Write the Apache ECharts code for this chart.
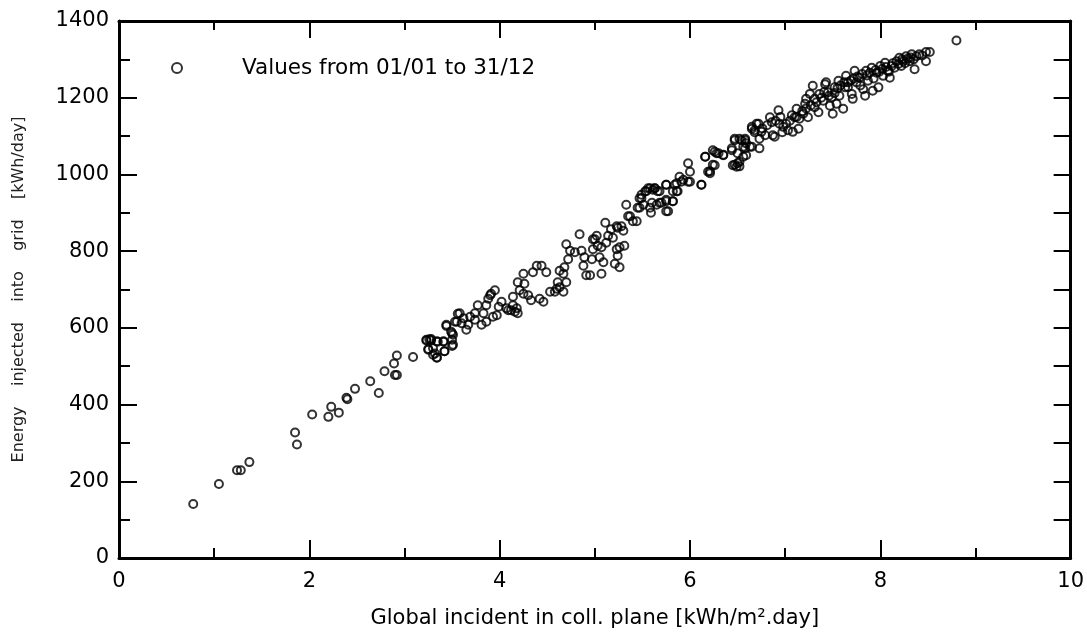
<!DOCTYPE html>
<html>
<head>
<meta charset="utf-8">
<script src="https://cdn.jsdelivr.net/npm/echarts@6/dist/echarts.min.js"></script>
<style>html,body{margin:0;padding:0;background:#fff}#c{width:1087px;height:634px}</style>
</head>
<body>
<div id="c"></div>
<script>
// Global incident irradiation [kWh/m².day]
const irradiation = [
0.78,1.05,1.24,1.28,1.37,1.85,1.87,2.03,2.20,2.23,2.31,2.39,2.40,2.48,2.64,2.73,2.79,2.89,2.92,2.90,2.92,3.09,
3.23,3.26,3.28,3.25,3.30,3.34,3.32,3.35,3.41,3.42,3.44,3.50,3.50,3.50,3.55,3.56,
3.23,3.28,3.34,3.41,3.25,3.30,3.34,3.42,3.51,3.51,3.49,3.44,3.53,3.58,3.60,3.62,3.65,3.67,3.69,3.74,3.74,3.77,
3.81,3.83,3.86,3.86,3.90,3.91,3.95,3.88,3.93,3.97,3.99,4.02,4.07,4.09,4.12,4.14,4.16,4.18,4.19,4.14,4.19,4.21,
4.25,4.26,4.25,4.30,4.33,4.35,4.39,4.42,4.44,4.46,4.49,4.53,4.58,4.60,4.63,4.67,4.61,4.67,4.70,4.63,4.68,4.72,
4.70,4.74,4.79,4.84,4.86,4.88,4.89,4.91,4.95,4.97,4.98,4.98,5.00,5.02,5.03,5.05,5.07,5.07,5.09,5.11,5.12,5.14,
5.17,5.19,5.21,5.23,5.24,5.23,5.26,5.28,5.30,5.24,5.26,5.31,5.33,5.37,5.40,5.44,5.45,5.47,5.49,5.51,5.54,5.58,
5.59,5.58,5.61,5.63,5.66,5.68,5.75,5.75,5.77,5.82,5.82,5.86,5.87,5.91,5.98,6.12,
5.35,5.47,5.49,5.53,5.56,5.60,5.63,5.65,5.68,5.70,5.75,5.75,5.75,5.82,5.84,5.86,5.89,5.93,5.98,6.00,6.00,6.12,
6.16,6.19,6.21,6.24,6.26,6.28,6.35,6.44,6.45,6.47,6.49,6.50,6.52,6.54,6.56,6.58,6.59,6.65,6.65,6.68,6.70,
6.16,6.21,6.24,6.26,6.30,6.35,6.44,6.47,6.47,6.50,6.52,6.52,6.56,6.58,6.58,6.59,6.63,6.65,6.68,6.72,6.73,6.73,
6.75,6.79,6.84,6.86,6.87,6.89,6.93,6.94,6.98,7.01,7.03,7.07,7.08,7.10,7.12,7.14,7.15,7.19,7.21,7.22,7.24,7.26,
7.29,7.31,7.31,7.35,7.36,7.40,7.42,7.43,7.45,7.47,7.49,7.50,7.52,7.54,7.56,7.57,7.61,7.63,7.64,7.66,7.70,7.71,
7.73,7.75,7.78,7.82,7.84,7.85,7.87,7.91,7.92,7.96,7.98,8.00,8.03,8.05,8.08,8.10,8.12,8.17,8.20,8.22,8.24,8.27,
8.31,8.33,8.36,8.38,8.41,8.48,8.48,8.52,8.80,
7.05,7.12,7.18,7.22,7.27,7.33,7.38,7.41,7.46,7.52,7.55,7.58,7.62,7.66,7.69,7.72,7.76,7.79,7.81,7.86,7.89,7.93,
7.95,7.99,8.02,8.06,8.09,8.13,8.15,8.19,8.23,8.26,8.29,8.32,8.35,8.44,6.76,6.81,6.90,6.95,6.97
];
// Energy injected into grid [kWh/day]
const energy = [
141,193,229,229,250,327,296,374,368,394,379,418,414,441,461,430,487,507,528,477,477,524,
567,570,568,545,547,523,533,564,564,539,605,586,569,553,616,637,
569,571,565,565,543,530,522,539,556,582,590,608,616,638,612,625,595,608,629,638,621,659,
608,638,659,616,685,689,698,676,629,633,655,668,651,646,646,659,642,651,638,681,719,698,
741,715,689,685,672,745,762,676,762,668,745,694,694,702,706,694,719,741,719,749,758,779,
818,801,797,844,801,762,784,737,737,779,831,805,831,840,814,784,810,741,771,874,822,840,
857,835,767,865,861,805,810,865,853,788,758,814,921,891,878,878,913,938,947,921,956,913,
900,964,960,964,956,926,973,930,904,956,930,977,956,981,981,973,
891,913,938,956,964,926,964,921,956,926,973,934,904,930,973,956,994,986,1029,1007,981,973,
1046,1007,1003,1063,1024,1055,1050,1063,1024,1089,1020,1055,1033,1089,1072,1089,1050,1119,1072,1110,1132,
1046,1008,1025,1059,1055,1051,1068,1093,1025,1029,1093,1021,1046,1093,1068,1081,1072,1124,1115,1132,1093,1068,
1111,1102,1149,1136,1102,1098,1167,1132,1124,1132,1115,1154,1111,1149,1171,1119,1145,1158,1184,1197,1149,1210,
1231,1197,1175,1162,1210,1192,1235,1240,1214,1179,1201,1158,1227,1184,1244,1205,1171,1227,1257,1240,1210,1197,
1270,1240,1252,1222,1205,1270,1244,1278,1218,1265,1227,1283,1257,1291,1270,1252,1283,1295,1304,1283,1295,1308,
1295,1313,1274,1308,1313,1295,1319,1319,1349,
1140,1150,1165,1172,1180,1188,1200,1215,1205,1212,1225,1232,1240,1228,1245,1250,1255,1232,1262,1258,1265,1250,
1272,1268,1275,1280,1268,1290,1278,1288,1300,1290,1302,1305,1300,1310,1120,1128,1140,1150,1110
];
const seriesName = 'Values from 01/01 to 31/12';
const xTitle = 'Global incident in coll. plane [kWh/m².day]';
const yTitle = 'Energy    injected    into    grid    [kWh/day]';

const points = irradiation.map((x, i) => [x, energy[i]]);
const FONT = 'DejaVu Sans, Liberation Sans, sans-serif';

const chart = echarts.init(document.getElementById('c'), null, {renderer: 'canvas'});
const lineStyle = {color: '#000', width: 3};
const tickStyle = {color: '#000', width: 2};
chart.setOption({
  animation: false,
  backgroundColor: '#fff',
  grid: {left: 119, right: 16, top: 21, bottom: 70, containLabel: false},
  legend: {
    left: 166, top: 52,
    itemWidth: 10, itemHeight: 10,
    data: [{name: seriesName, icon: 'circle', itemStyle: {color: 'transparent', borderColor: '#000', borderWidth: 2}}],
    textStyle: {fontFamily: FONT, fontSize: 21.5, color: '#000', padding: [0, 0, 0, 55]},
    selectedMode: false
  },
  xAxis: [{
    type: 'value', min: 0, max: 10, interval: 2, position: 'bottom',
    name: xTitle, nameLocation: 'middle', nameGap: 50,
    nameTextStyle: {fontFamily: FONT, fontSize: 21, color: '#000'},
    axisLine: {show: true, onZero: false, lineStyle},
    axisTick: {show: true, inside: true, length: 18, lineStyle: tickStyle},
    minorTick: {show: true, splitNumber: 2, length: 10, lineStyle: tickStyle},
    axisLabel: {fontFamily: FONT, fontSize: 21, color: '#000', margin: 13},
    splitLine: {show: false}
  }, {
    type: 'value', min: 0, max: 10, interval: 2, position: 'top',
    axisLine: {show: true, onZero: false, lineStyle},
    axisTick: {show: true, inside: true, length: 17, lineStyle: tickStyle},
    minorTick: {show: true, splitNumber: 2, length: 9, lineStyle: tickStyle},
    axisLabel: {show: false}, splitLine: {show: false}
  }],
  yAxis: [{
    type: 'value', min: 0, max: 1400, interval: 200, position: 'left',
    name: yTitle, nameLocation: 'middle', nameGap: 92, nameRotate: 90,
    nameTextStyle: {fontFamily: FONT, fontSize: 16, color: '#222'},
    axisLine: {show: true, onZero: false, lineStyle},
    axisTick: {show: true, inside: true, length: 18, lineStyle: tickStyle},
    minorTick: {show: true, splitNumber: 2, length: 11, lineStyle: tickStyle},
    axisLabel: {fontFamily: FONT, fontSize: 21, color: '#000', margin: 10, formatter: v => String(v)},
    splitLine: {show: false}
  }, {
    type: 'value', min: 0, max: 1400, interval: 200, position: 'right',
    axisLine: {show: true, onZero: false, lineStyle},
    axisTick: {show: true, inside: true, length: 17, lineStyle: tickStyle},
    minorTick: {show: true, splitNumber: 2, length: 17, lineStyle: tickStyle},
    axisLabel: {show: false}, splitLine: {show: false}
  }],
  series: [{
    name: seriesName,
    type: 'scatter',
    xAxisIndex: 0, yAxisIndex: 0,
    symbol: 'circle',
    symbolSize: 8,
    itemStyle: {color: 'transparent', borderColor: '#000', borderWidth: 2},
    data: points
  }]
});
</script>
</body>
</html>
